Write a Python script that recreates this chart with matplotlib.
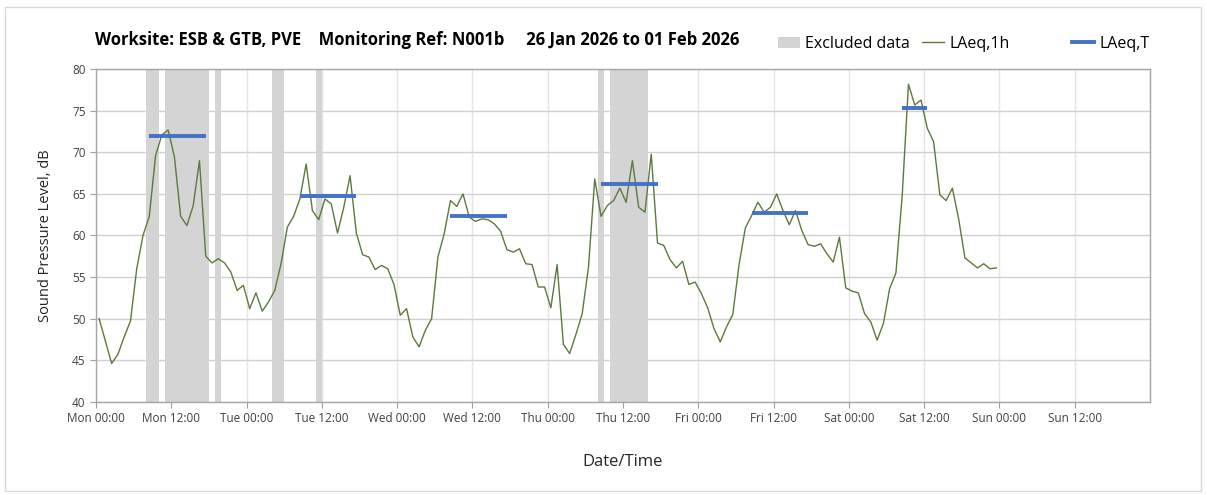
import matplotlib.pyplot as plt
from matplotlib.patches import Patch, Rectangle
from matplotlib.lines import Line2D

plt.rcParams['font.family'] = ['Open Sans', 'DejaVu Sans']

# hourly LAeq,1h values, Mon 00:00 .. Sat 23:00 (one per hour, plotted mid-hour)
laeq_1h = [
    50.0, 47.3, 44.6, 45.7, 47.8, 49.7, 56.0, 60.0, 62.3, 69.6, 72.1, 72.7,
    69.5, 62.3, 61.2, 63.6, 69.0, 57.5, 56.7, 57.2, 56.7, 55.6, 53.4, 54.0,
    51.2, 53.1, 50.9, 52.0, 53.4, 56.6, 61.0, 62.3, 64.4, 68.6, 63.0, 61.9,
    64.4, 63.8, 60.3, 63.4, 67.2, 60.3, 57.7, 57.4, 55.9, 56.4, 56.0, 54.1,
    50.4, 51.2, 47.8, 46.6, 48.6, 50.0, 57.4, 60.2, 64.2, 63.5, 65.0, 62.2,
    61.7, 62.0, 61.9, 61.4, 60.5, 58.3, 58.0, 58.4, 56.6, 56.5, 53.8, 53.8,
    51.3, 56.5, 46.9, 45.8, 48.1, 50.6, 56.2, 66.8, 62.3, 63.6, 64.2, 65.7,
    64.0, 69.0, 63.4, 62.8, 69.8, 59.1, 58.8, 57.1, 56.1, 56.9, 54.1, 54.4,
    53.0, 51.3, 48.8, 47.2, 49.0, 50.5, 56.5, 60.9, 62.4, 64.0, 62.8, 63.4,
    65.0, 63.0, 61.3, 63.0, 60.6, 58.9, 58.7, 59.0, 57.8, 56.8, 59.8, 53.7,
    53.3, 53.1, 50.6, 49.6, 47.4, 49.4, 53.6, 55.5, 64.8, 78.2, 75.7, 76.3,
    72.9, 71.3, 64.9, 64.2, 65.7, 62.0, 57.3, 56.7, 56.1, 56.6, 56.0, 56.1,
]
hours = [h + 0.5 for h in range(len(laeq_1h))]

# excluded periods, hours from Mon 00:00
excl_start = [8, 11, 19, 28, 35, 80, 82]
excl_end = [10, 18, 20, 30, 36, 81, 88]

# LAeq,T periods
t_start = [8.5, 32.5, 56.5, 80.5, 104.5, 128.5]
t_end = [17.5, 41.5, 65.5, 89.5, 113.5, 132.5]
t_level = [72.0, 64.8, 62.4, 66.2, 62.7, 75.3]

tick_labels = ['Mon 00:00', 'Mon 12:00', 'Tue 00:00', 'Tue 12:00', 'Wed 00:00',
               'Wed 12:00', 'Thu 00:00', 'Thu 12:00', 'Fri 00:00', 'Fri 12:00',
               'Sat 00:00', 'Sat 12:00', 'Sun 00:00', 'Sun 12:00']

fig = plt.figure(figsize=(12.07, 4.95), dpi=100)
ax = fig.add_axes([0.0795, 0.1885, 0.8733, 0.6715])

for s, e in zip(excl_start, excl_end):
    ax.axvspan(s, e, color='#d4d4d4', lw=0, zorder=1)

ax.plot(hours, laeq_1h, color='#5b7a3c', lw=1.0, zorder=3)
for s, e, v in zip(t_start, t_end, t_level):
    ax.plot([s, e], [v, v], color='#4472c4', lw=2.8, solid_capstyle='butt', zorder=4)

ax.set_xlim(0, 168)
ax.set_ylim(40, 80)
ax.set_xticks(range(0, 168, 12))
ax.set_xticklabels(tick_labels)
ax.set_yticks(range(40, 81, 5))
ax.tick_params(axis='both', labelsize=8.5, colors='#404040', length=4, width=0.8)
ax.tick_params(axis='both', color='#a0a0a0')
ax.grid(axis='y', color='#d0d0d0', lw=1.0, zorder=0)
ax.grid(axis='x', color='#e4e4e4', lw=1.0, zorder=0)
ax.set_axisbelow(True)
for sp in ax.spines.values():
    sp.set_color('#a6a6a6')
    sp.set_linewidth(1.0)

ax.set_ylabel('Sound Pressure Level, dB', fontsize=10.5, color='#262626', labelpad=14)
ax.set_xlabel('Date/Time', fontsize=12, color='#262626', labelpad=21)

fig.text(0.079, 0.919, 'Worksite: ESB & GTB, PVE    Monitoring Ref: N001b     26 Jan 2026 to 01 Feb 2026',
         fontsize=12, fontweight='bold', color='black', va='center')

# legend entries placed one by one, like the spreadsheet legend
legend_items = [
    (Patch(facecolor='#d4d4d4', edgecolor='none'), 'Excluded data', 778),
    (Line2D([0], [0], color='#5b7a3c', lw=1.0), 'LAeq,1h', 922),
    (Line2D([0], [0], color='#4472c4', lw=2.8), 'LAeq,T', 1072),
]
for handle, label, px in legend_items:
    leg = fig.legend([handle], [label], frameon=False, loc='center left',
                     bbox_to_anchor=(px / 1207, 1 - 44 / 495), fontsize=11.5,
                     handlelength=1.4, handletextpad=0.3, borderpad=0, borderaxespad=0)

fig.patches.append(Rectangle((0.004, 0.008), 0.991, 0.978, transform=fig.transFigure,
                             fill=False, edgecolor='#d9d9d9', lw=1.0))

fig.savefig('out.png', dpi=100)
